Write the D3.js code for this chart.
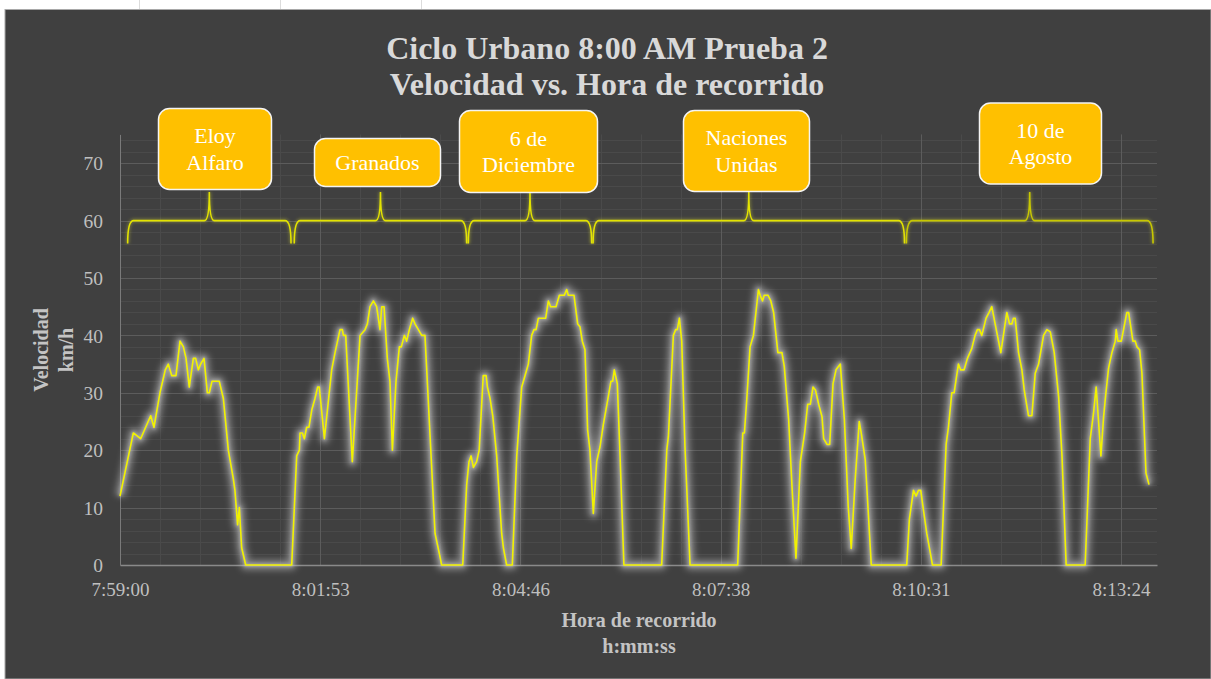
<!DOCTYPE html>
<html>
<head>
<meta charset="utf-8">
<script src="https://cdn.jsdelivr.net/npm/d3@7"></script>
<style>
  html, body { margin: 0; padding: 0; background: #ffffff; }
  svg { display: block; }
  text { font-family: "Liberation Serif", "Times New Roman", serif; }
</style>
</head>
<body>
<svg id="chart" width="1211" height="679"></svg>
<script>
// ---------- DATA ----------
// seconds elapsed since 7:59:00
const segundos = [
  0, 11.5, 17.8, 26.5, 29.3, 34.5, 39.1, 41.7, 44.6, 48.3, 51.8, 54.7, 57, 59.8, 63.3, 65.3, 67.6, 69.6, 72.5, 75.4,
  77.1, 79.4, 85.7, 89.2, 93.5, 97.8, 99.2, 101.5, 103, 105, 108.5, 148.2, 152.5, 154.8, 155.4, 157.4, 159.1, 161.1, 163.1, 165.5,
  168.3, 170.6, 172, 176.4, 179.8, 182.7, 185.6, 189.9, 191.9, 192.8, 194.8, 200.5, 207.2, 211.5, 213.5, 215.8, 218.7, 221.5, 224.4, 225.9,
  227.9, 230.7, 233, 235.1, 238.2, 241.1, 242.8, 245.4, 247.4, 249.7, 252.6, 254.6, 257.5, 260.4, 263.2, 269, 271.9, 275.6, 277.6, 295.8,
  299.2, 301.2, 303, 305, 307.8, 310, 313.5, 316, 317.1, 319.4, 321.7, 325.1, 329.4, 330.9, 333.7, 338.6, 342.4, 346.7, 349.6, 352.4,
  355.3, 357.3, 359.1, 361.1, 367.4, 369.7, 371.7, 376.3, 379.2, 383.5, 385.5, 386.9, 391.8, 395, 397, 399, 401.3, 403.6, 405.6, 408.5,
  411.4, 414.3, 417.1, 421.4, 423.7, 425.2, 426.6, 429.2, 431.5, 434.9, 467.5, 471.9, 473.3, 477.6, 479.6, 481, 482.8, 484.8, 487.6, 492,
  533.1, 537.5, 538.9, 541, 543.8, 546.7, 551, 552.5, 554.5, 556, 559.2, 561.7, 564.1, 567.8, 571.3, 573.3, 577.1, 580, 583.4, 587.2,
  590.9, 593.5, 595.8, 598.1, 600.2, 603, 605.9, 607.3, 610.2, 612.5, 615.4, 618, 621.7, 625.2, 628.5, 631.1, 634.5, 638, 639.7, 643.2,
  647.5, 648.4, 679, 681.3, 684.8, 687.1, 689.1, 691.1, 693.4, 696.3, 699.2, 701.2, 708.7, 713, 715, 717.9, 719.9, 723.6, 725.6, 728.5,
  731.4, 735.1, 738, 740, 741.8, 743.8, 747.5, 750.1, 752.4, 755.3, 760.2, 765.4, 767.7, 769.7, 771.1, 772.6, 775.5, 778.4, 780.4, 784.1,
  787, 789.9, 792.8, 797.1, 800, 802.9, 806.3, 810.1, 813, 816.6, 833, 837.4, 840.2, 842.5, 846.6, 848.9, 850.9, 853.2, 856.1, 859,
  859.8, 861.3, 864.2, 869, 870.5, 874.2, 876.2, 877.7, 880, 882, 885.5, 886.3, 888.1
];
// km/h
const velocidad = [
  12, 23, 22, 26, 24, 30, 34, 35, 33, 33, 39, 38, 36, 31, 36, 36, 34, 35, 36, 30,
  30, 32, 32, 29, 20, 15, 13, 7, 10, 3, 0, 0, 19, 20, 23, 23, 22, 24, 24, 27,
  29, 31, 31, 22, 28.5, 34, 37, 41, 41, 40, 40, 18, 40, 41, 42, 45, 46, 45, 41, 45,
  45, 36, 32, 20, 32, 38, 38, 40, 39, 41, 43, 42, 41, 40, 40, 17, 5.5, 2, 0, 0,
  14, 18, 19, 17, 18, 20, 33, 33, 31, 29, 26, 19, 5.5, 3, 0, 0, 19, 31, 33, 35,
  40, 41, 41, 43, 43, 46, 45, 45, 47, 47, 48, 47, 47, 42, 41.5, 39, 37.5, 23.5, 20, 9,
  18, 20.6, 24.4, 29.3, 32, 32, 34, 31.6, 19.5, 0, 0, 20, 22.4, 40, 41, 41, 43, 39, 20.6, 0,
  0, 23, 23, 29, 38, 40, 48, 47, 46, 47, 47, 46, 44, 37, 37, 34.6, 25.3, 13.6, 1.2, 18,
  23, 28, 28, 31, 30.5, 28, 25.8, 22, 21, 21, 31.6, 34, 35, 25.3, 10.2, 2.9, 14.8, 25, 23, 18.3,
  3.2, 0, 0, 8, 13, 12, 13, 13, 9.6, 5.5, 2.3, 0, 0, 21, 24, 30, 30, 35, 34, 34,
  36, 37.7, 40, 41, 41, 40, 43, 44, 45, 42, 37, 44, 42, 42, 43, 43, 37, 34, 30.5, 26,
  26, 33.4, 35, 40, 41, 40.6, 37, 29.3, 19, 0, 0, 22, 26.4, 31, 19, 25.8, 30, 34.3, 37, 39,
  41, 39, 39, 44, 44, 39, 39, 38, 37.5, 33.4, 16, 15.4, 14
];

// street segments (seconds since 7:59:00)
const tramoNombres = [["Eloy", "Alfaro"], ["Granados"], ["6 de", "Diciembre"], ["Naciones", "Unidas"], ["10 de", "Agosto"]];
const tramoInicio = [6.6, 150.4, 300.6, 408.3, 678.7];
const tramoFin    = [147.6, 299.2, 407.1, 677.1, 891.6];

const xTickValues = [0, 172.8, 345.6, 518.4, 691.2, 864];
const xTickLabels = ["7:59:00", "8:01:53", "8:04:46", "8:07:38", "8:10:31", "8:13:24"];
const yTickValues = [0, 10, 20, 30, 40, 50, 60, 70];

const titulo = ["Ciclo Urbano 8:00 AM Prueba 2", "Velocidad vs. Hora de recorrido"];
const xTitulo = ["Hora de recorrido", "h:mm:ss"];
const yTitulo = ["Velocidad", "km/h"];

// ---------- LAYOUT ----------
const W = 1211, H = 679;
const plot = { left: 120, right: 1157, top: 134.5, bottom: 565 };
// label box geometry (pixels): x, y, w, h
const boxLayout = [
  [158.5, 108.5, 113, 81],
  [314.5, 138.5, 126, 48],
  [459.5, 110.5, 138, 82],
  [683.5, 110.5, 126, 81],
  [979.5, 103, 122, 81]
];

const svg = d3.select("#chart");
const defs = svg.append("defs");
const f = defs.append("filter").attr("id", "glow").attr("x", "-10%").attr("y", "-10%").attr("width", "120%").attr("height", "120%");
f.append("feGaussianBlur").attr("stdDeviation", 3.2);
const f2 = defs.append("filter").attr("id", "glowS").attr("x", "-10%").attr("y", "-10%").attr("width", "120%").attr("height", "120%");
f2.append("feGaussianBlur").attr("stdDeviation", 1.5);

// white sheet background + sheet gridlines
svg.append("rect").attr("width", W).attr("height", H).attr("fill", "#ffffff");
[139, 280, 421].forEach(x => svg.append("line").attr("x1", x + 0.5).attr("x2", x + 0.5).attr("y1", 0).attr("y2", 9).attr("stroke", "#dcdcdc"));
// chart area
svg.append("rect").attr("x", 5).attr("y", 9.5).attr("width", W - 5).attr("height", H - 9.5)
  .attr("fill", "#404040").attr("stroke", "#a8a8a8").attr("stroke-width", 1);

const x = d3.scaleLinear().domain([0, 895]).range([plot.left, plot.right]);
const y = d3.scaleLinear().domain([0, 75]).range([plot.bottom, plot.top]);

// minor gridlines
const g = svg.append("g");
const minorY = d3.range(0, 75.01, 2);
const minorX = d3.range(0, 895, 172.8 / 5);
g.selectAll(".mny").data(minorY).enter().append("line")
  .attr("x1", plot.left).attr("x2", plot.right)
  .attr("y1", d => Math.round(y(d)) + 0.5).attr("y2", d => Math.round(y(d)) + 0.5)
  .attr("stroke", "#4a4a4a").attr("stroke-width", 1);
g.selectAll(".mnx").data(minorX).enter().append("line")
  .attr("y1", plot.top).attr("y2", plot.bottom)
  .attr("x1", d => Math.round(x(d)) + 0.5).attr("x2", d => Math.round(x(d)) + 0.5)
  .attr("stroke", "#4a4a4a").attr("stroke-width", 1);
// major gridlines
g.selectAll(".mjy").data(yTickValues.filter(d => d > 0)).enter().append("line")
  .attr("x1", plot.left).attr("x2", plot.right)
  .attr("y1", d => Math.round(y(d)) + 0.5).attr("y2", d => Math.round(y(d)) + 0.5)
  .attr("stroke", "#5c5c5c").attr("stroke-width", 1);
g.selectAll(".mjx").data(xTickValues.filter(d => d > 0)).enter().append("line")
  .attr("y1", plot.top).attr("y2", plot.bottom)
  .attr("x1", d => Math.round(x(d)) + 0.5).attr("x2", d => Math.round(x(d)) + 0.5)
  .attr("stroke", "#5c5c5c").attr("stroke-width", 1);

// axes
const xAxis = d3.axisBottom(x).tickValues(xTickValues).tickSize(0).tickPadding(0)
  .tickFormat((d, i) => xTickLabels[i]);
const gx = svg.append("g").attr("transform", `translate(0,${plot.bottom})`).call(xAxis);
gx.select(".domain").attr("stroke", "#8a8a8a").attr("stroke-width", 1.5);
gx.selectAll("text").attr("fill", "#bfbfbf").attr("font-size", "19px")
  .attr("font-family", "Liberation Serif, serif").attr("dy", null).attr("y", 31);

const yAxis = d3.axisLeft(y).tickValues(yTickValues).tickSize(0).tickPadding(0);
const gy = svg.append("g").attr("transform", `translate(${plot.left},0)`).call(yAxis);
gy.select(".domain").attr("stroke", "#7a7a7a").attr("stroke-width", 1);
gy.selectAll("text").attr("fill", "#bfbfbf").attr("font-size", "19.5px")
  .attr("font-family", "Liberation Serif, serif").attr("x", -17).attr("dy", "0.34em");

// line with glow
const pts = segundos.map((s, i) => [s, velocidad[i]]);
const line = d3.line().x(d => x(d[0])).y(d => y(d[1]));
svg.append("path").datum(pts).attr("d", line).attr("fill", "none")
  .attr("stroke", "#c4c4c4").attr("stroke-opacity", 0.5).attr("stroke-width", 10)
  .attr("stroke-linejoin", "round").attr("filter", "url(#glow)");
svg.append("path").datum(pts).attr("d", line).attr("fill", "none")
  .attr("stroke", "#e0e0e0").attr("stroke-opacity", 0.35).attr("stroke-width", 4)
  .attr("stroke-linejoin", "round").attr("filter", "url(#glowS)");
svg.append("path").datum(pts).attr("d", line).attr("fill", "none")
  .attr("stroke", "#f2f200").attr("stroke-width", 1.6).attr("stroke-linejoin", "round");

// braces
const yFlat = y(60), yEnd = y(56), ySpike = y(65);
const braceG = svg.append("g");
tramoInicio.forEach((s, i) => {
  const x0 = x(s), x1 = x(tramoFin[i]), xm = (x0 + x1) / 2;
  const p = `M${x0},${yEnd} Q${x0},${yFlat} ${x0 + 6},${yFlat} L${xm - 5},${yFlat} Q${xm},${yFlat} ${xm},${ySpike} ` +
            `Q${xm},${yFlat} ${xm + 5},${yFlat} L${x1 - 6},${yFlat} Q${x1},${yFlat} ${x1},${yEnd}`;
  braceG.append("path").attr("d", p).attr("fill", "none")
    .attr("stroke", "#d9d93a").attr("stroke-opacity", 0.3).attr("stroke-width", 4).attr("filter", "url(#glowS)");
  braceG.append("path").attr("d", p).attr("fill", "none")
    .attr("stroke", i === 4 ? "#c8c800" : "#e3e300").attr("stroke-width", 1.6);
});

// label boxes
tramoNombres.forEach((lines, i) => {
  const [bx, by, bw, bh] = boxLayout[i];
  svg.append("rect").attr("x", bx).attr("y", by).attr("width", bw).attr("height", bh)
    .attr("rx", 11).attr("ry", 11).attr("fill", "#ffc000").attr("stroke", "#f4f4f4").attr("stroke-width", 1.5);
  const cx = bx + bw / 2, cy = by + bh / 2;
  const lh = 26.5;
  const t = svg.append("text").attr("text-anchor", "middle").attr("fill", "#ffffff").attr("font-size", "22px");
  lines.forEach((ln, k) => {
    t.append("tspan").attr("x", cx).attr("y", cy + (k - (lines.length - 1) / 2) * lh + 7.5).text(ln);
  });
});

// title
const tt = svg.append("text").attr("text-anchor", "middle").attr("fill", "#d9d9d9")
  .attr("font-size", "32px").attr("font-weight", "bold");
titulo.forEach((ln, k) => tt.append("tspan").attr("x", 607).attr("y", 59 + k * 36).text(ln));

// x axis title
const xt = svg.append("text").attr("text-anchor", "middle").attr("fill", "#c4c4c4")
  .attr("font-size", "20px").attr("font-weight", "bold");
xTitulo.forEach((ln, k) => xt.append("tspan").attr("x", 639).attr("y", 627 + k * 26).text(ln));

// y axis title
const yt = svg.append("text").attr("text-anchor", "middle").attr("fill", "#c4c4c4")
  .attr("font-size", "20px").attr("font-weight", "bold")
  .attr("transform", "translate(0,350) rotate(-90)");
yTitulo.forEach((ln, k) => yt.append("tspan").attr("x", 0).attr("y", 48 + k * 24.5).text(ln));
</script>
</body>
</html>
